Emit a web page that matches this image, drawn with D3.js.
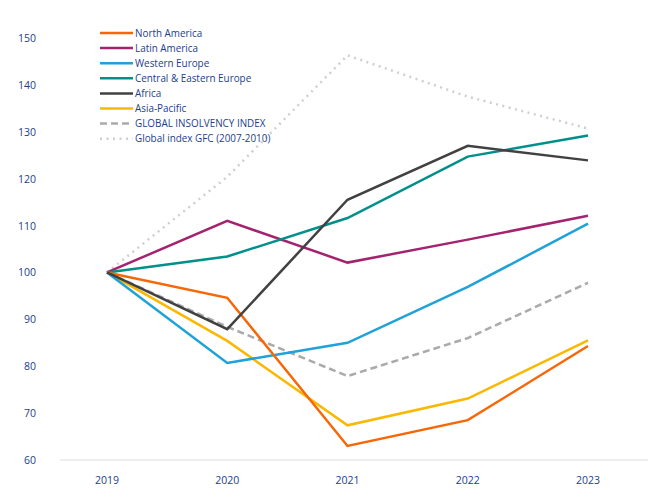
<!DOCTYPE html>
<html>
<head>
<meta charset="utf-8">
<script src="https://cdn.jsdelivr.net/npm/d3@7"></script>
<style>
  body { margin: 0; background: #fff; }
  text { font-family: "Open Sans", "Noto Sans", sans-serif; }
</style>
</head>
<body>
<div id="chart"></div>
<script>
// data
var years = ["2019", "2020", "2021", "2022", "2023"];
var yTicks = [60, 70, 80, 90, 100, 110, 120, 130, 140, 150];
var seriesNames = ["North America", "Latin America", "Western Europe", "Central & Eastern Europe",
                   "Africa", "Asia-Pacific", "GLOBAL INSOLVENCY INDEX", "Global index GFC (2007-2010)"];
var northAmerica = [100, 94.6, 63.0, 68.5, 84.3];
var latinAmerica = [100, 111.0, 102.1, 107.0, 112.1];
var westernEurope = [100, 80.7, 85.0, 96.9, 110.4];
var cee = [100, 103.4, 111.6, 124.7, 129.2];
var africa = [100, 87.9, 115.5, 127.0, 123.9];
var asiaPacific = [100, 85.4, 67.4, 73.1, 85.5];
var globalIndex = [100, 88.4, 77.9, 86.0, 97.8];
var gfcIndex = [100, 120.4, 146.3, 137.5, 130.7];

var colors = ["#f76707", "#a3236f", "#1ea2d8", "#00908a", "#414141", "#fbb800", "#aaaaaa", "#cfcfcf"];
var values = [northAmerica, latinAmerica, westernEurope, cee, africa, asiaPacific, globalIndex, gfcIndex];

var W = 664, H = 502;
var margin = {top: 38, right: 16, bottom: 42, left: 60};

var svg = d3.select("#chart").append("svg")
  .attr("width", W).attr("height", H);

var x = d3.scalePoint().domain(years)
  .range([107, 588]);
var y = d3.scaleLinear().domain([60, 150])
  .range([H - margin.bottom, margin.top]);

// baseline
svg.append("line")
  .attr("x1", margin.left).attr("x2", 648)
  .attr("y1", y(60)).attr("y2", y(60))
  .style("stroke", "#dddddd").style("stroke-width", 1);

// y tick labels
svg.selectAll("text.ytick")
  .data(yTicks)
  .enter().append("text")
  .attr("class", "ytick")
  .attr("x", 36)
  .attr("y", function(d) { return y(d) + 4; })
  .attr("text-anchor", "end")
  .style("font-size", "10.5px")
  .style("fill", "#1b3e8c")
  .text(function(d) { return d; });

// x tick labels
svg.selectAll("text.xtick")
  .data(years)
  .enter().append("text")
  .attr("class", "xtick")
  .attr("x", function(d) { return x(d); })
  .attr("y", 484)
  .attr("text-anchor", "middle")
  .style("font-size", "10.5px")
  .style("fill", "#1b3e8c")
  .text(function(d) { return d; });

var line = d3.line()
  .x(function(d, i) { return x(years[i]); })
  .y(function(d) { return y(d); });

function dash(i) {
  if (i == 6) return "7,4";
  if (i == 7) return "2,4.5";
  return null;
}

// draw back to front: gfc, global index, then regions
var order = [7, 6, 5, 2, 1, 3, 0, 4];
order.forEach(function(i) {
  svg.append("path")
    .datum(values[i])
    .attr("d", line)
    .style("fill", "none")
    .style("stroke", colors[i])
    .style("stroke-width", 2.5)
    .style("stroke-dasharray", dash(i))
    .style("stroke-linejoin", "miter");
});

// legend
var lg = svg.selectAll("g.legend")
  .data(seriesNames)
  .enter().append("g")
  .attr("class", "legend")
  .attr("transform", function(d, i) { return "translate(100," + (33 + i * 15.1) + ")"; });

lg.append("line")
  .attr("x1", 0).attr("x2", 33)
  .attr("y1", 0).attr("y2", 0)
  .style("stroke", function(d, i) { return colors[i]; })
  .style("stroke-width", 2.5)
  .style("stroke-dasharray", function(d, i) { return dash(i); });

lg.append("text")
  .attr("x", 35)
  .attr("y", 3.5)
  .style("font-size", "9.9px")
  .style("fill", "#1b3e8c")
  .text(function(d) { return d; });
</script>
</body>
</html>
